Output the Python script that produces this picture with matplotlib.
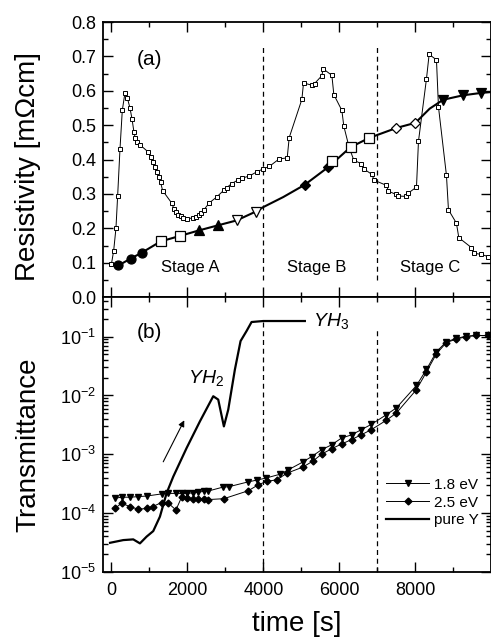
import numpy as np
import matplotlib
matplotlib.use("Agg")
import matplotlib.pyplot as plt
from matplotlib.ticker import MultipleLocator, LogLocator, NullFormatter

plt.rcParams['font.family'] = ['Liberation Sans', 'DejaVu Sans']
plt.rcParams['mathtext.fontset'] = 'custom'
plt.rcParams['mathtext.rm'] = 'Liberation Sans'
plt.rcParams['mathtext.it'] = 'Liberation Sans:italic'

# ---------------- data: panel (a) resistivity ----------------
rho_t = [0, 57, 118, 162, 224, 285, 355, 417, 487, 540, 592, 627, 680, 759, 969,
         1030, 1083, 1136, 1189, 1241, 1294, 1346, 1583, 1645, 1697, 1759, 1820,
         1873, 1978, 2154, 2224, 2294, 2364, 2434, 2575, 2768, 2969, 3031, 3162,
         3320, 3434, 3627, 3820, 3996, 4154, 4417, 4627, 4680, 5013, 5057, 5285,
         5346, 5539, 5575, 5803, 5855, 6066, 6118, 6259, 6382, 6583, 6645, 6855,
         6917, 7241, 7294, 7487, 7557, 7750, 7820, 8031, 8083, 8294, 8364, 8557,
         8610, 8820, 8873, 9083, 9145, 9478, 9540, 9741, 9917]
rho_v = [0.097, 0.134, 0.20, 0.293, 0.43, 0.543, 0.594, 0.58, 0.55, 0.519, 0.48,
         0.462, 0.452, 0.442, 0.422, 0.407, 0.393, 0.378, 0.364, 0.349, 0.334, 0.31,
         0.274, 0.257, 0.249, 0.24, 0.235, 0.231, 0.227, 0.231, 0.233, 0.238, 0.245,
         0.254, 0.274, 0.291, 0.312, 0.318, 0.33, 0.34, 0.346, 0.352, 0.364, 0.373,
         0.38, 0.402, 0.405, 0.464, 0.575, 0.623, 0.616, 0.621, 0.644, 0.664, 0.645,
         0.589, 0.543, 0.497, 0.435, 0.398, 0.388, 0.373, 0.357, 0.34, 0.325, 0.308,
         0.299, 0.294, 0.293, 0.303, 0.32, 0.453, 0.635, 0.706, 0.69, 0.553, 0.354,
         0.254, 0.215, 0.173, 0.144, 0.128, 0.124, 0.118]

# smooth reference curve (thick line)
curve_t = [0, 180, 504, 794, 1294, 1803, 2303, 2811, 3294, 3803, 4000, 4522,
           5092, 5706, 6294, 6785, 7504, 8004, 8377, 8732, 9259, 9741, 9960]
curve_v = [0.095, 0.092, 0.112, 0.129, 0.162, 0.178, 0.194, 0.209, 0.223, 0.249,
           0.262, 0.291, 0.327, 0.378, 0.436, 0.463, 0.492, 0.507, 0.548, 0.574,
           0.587, 0.594, 0.596]

circ_t = [180, 504, 794];           circ_v = [0.092, 0.112, 0.129]
sqA_t = [1294, 1803];               sqA_v = [0.162, 0.178]
triup_t = [2303, 2811];             triup_v = [0.194, 0.209]
tridn_open_t = [3294, 3803];        tridn_open_v = [0.223, 0.249]
dia_t = [5092, 5706];               dia_v = [0.327, 0.378]
sqB_t = [5794, 6294, 6785];         sqB_v = [0.396, 0.436, 0.463]
dia_open_t = [7504, 8004];          dia_open_v = [0.492, 0.507]
tridn_t = [8732, 9259, 9741];       tridn_v = [0.574, 0.587, 0.594]

# ---------------- data: panel (b) transmittance ----------------
pureY_t = [-37, 311, 574, 750, 925, 1100, 1276, 1452, 1627, 1978, 2329, 2680,
           2811, 2960, 3075, 3250, 3399, 3557, 3689, 3996, 5092]
pureY_log = [-4.505, -4.459, -4.447, -4.515, -4.40, -4.306, -4.06, -3.66, -3.38,
             -2.894, -2.44, -2.013, -2.07, -2.526, -2.24, -1.558, -1.075, -0.904,
             -0.751, -0.734, -0.734]

e18_t = [92, 268, 487, 706, 925, 1320, 1496, 1697, 1846, 1978, 2154, 2285, 2434,
         2548, 2925, 3101, 3601, 3820, 4057, 4434, 4654, 5031, 5268, 5531, 5794,
         6057, 6320, 6583, 6846, 7241, 7504, 8031, 8294, 8557, 8820, 9083, 9346,
         9610, 9917]
e18_log = [-3.747, -3.73, -3.73, -3.72, -3.71, -3.674, -3.665, -3.665, -3.665,
           -3.665, -3.655, -3.645, -3.63, -3.625, -3.56, -3.55, -3.469, -3.44,
           -3.406, -3.34, -3.265, -3.134, -3.04, -2.923, -2.84, -2.724, -2.67,
           -2.58, -2.49, -2.326, -2.21, -1.83, -1.558, -1.256, -1.085, -1.03,
           -0.99, -0.98, -0.98]

e25_t = [92, 268, 487, 706, 925, 1083, 1320, 1496, 1697, 1846, 1978, 2154, 2285,
         2434, 2548, 2960, 3601, 3864, 4083, 4346, 4627, 5031, 5294, 5531, 5794,
         6057, 6320, 6583, 6846, 7241, 7504, 8031, 8294, 8557, 8820, 9083, 9346,
         9610, 9917]
e25_log = [-3.918, -3.833, -3.89, -3.935, -3.92, -3.89, -3.82, -3.83, -3.947,
           -3.73, -3.745, -3.765, -3.765, -3.765, -3.77, -3.755, -3.62, -3.52,
           -3.46, -3.435, -3.32, -3.22, -3.12, -3.0, -2.906, -2.826, -2.75, -2.667,
           -2.58, -2.42, -2.297, -1.9, -1.60, -1.29, -1.1, -1.04, -1.0, -0.98,
           -0.98]

xticks = [0, 2000, 4000, 6000, 8000]
stage_bounds = [4000, 7000]

# ---------------- figure ----------------
fig = plt.figure(figsize=(4.91, 6.39), dpi=100)
L, R = 0.210, 0.999
axA = fig.add_axes([L, 0.535, R - L, 0.4305])
axB = fig.add_axes([L, 0.105, R - L, 0.430], sharex=axA)

xlim = (-220, 9980)

# panel (a)
axA.plot(rho_t, rho_v, '-', color='black', lw=0.7, marker='s', ms=3.0,
         mfc='white', mec='black', mew=0.7, zorder=3)
axA.plot(curve_t, curve_v, '-', color='black', lw=1.5, zorder=2)
mk = dict(color='black', ls='none', zorder=4, mew=0.9)
axA.plot(circ_t, circ_v, marker='o', ms=6.5, mfc='black', mec='black', **mk)
axA.plot(sqA_t, sqA_v, marker='s', ms=6.5, mfc='white', mec='black', **mk)
axA.plot(triup_t, triup_v, marker='^', ms=7, mfc='black', mec='black', **mk)
axA.plot(tridn_open_t, tridn_open_v, marker='v', ms=7, mfc='white', mec='black', **mk)
axA.plot(dia_t, dia_v, marker='D', ms=5.5, mfc='black', mec='black', **mk)
axA.plot(sqB_t, sqB_v, marker='s', ms=6.5, mfc='white', mec='black', **mk)
axA.plot(dia_open_t, dia_open_v, marker='D', ms=5.5, mfc='white', mec='black', **mk)
axA.plot(tridn_t, tridn_v, marker='v', ms=7, mfc='black', mec='black', **mk)

for xb in stage_bounds:
    axA.plot([xb, xb], [0.05, 0.737], ls=(0, (4, 3)), color='black', lw=0.9, zorder=1)

axA.text(2066, 0.087, 'Stage A', ha='center', va='center', fontsize=12)
axA.text(5399, 0.087, 'Stage B', ha='center', va='center', fontsize=12)
axA.text(8382, 0.087, 'Stage C', ha='center', va='center', fontsize=12)
axA.text(1000, 0.69, '(a)', ha='center', va='center', fontsize=15)

axA.set_ylim(0.0, 0.8)
axA.set_xlim(*xlim)
axA.yaxis.set_major_locator(MultipleLocator(0.1))
axA.yaxis.set_minor_locator(MultipleLocator(0.05))
axA.yaxis.set_major_formatter(plt.FuncFormatter(lambda v, p: f'{v:.1f}'))
axA.set_ylabel('Resistivity [m\u03a9cm]', fontsize=20)
axA.yaxis.set_label_coords(-0.160, 0.476)
axA.tick_params(labelbottom=False)

# panel (b)
axB.plot(pureY_t, 10 ** np.array(pureY_log), '-', color='black', lw=1.6,
         label='pure Y', zorder=3)
axB.plot(e18_t, 10 ** np.array(e18_log), '-', color='black', lw=0.7, marker='v',
         ms=4.5, mfc='black', mec='black', label='1.8 eV', zorder=4)
axB.plot(e25_t, 10 ** np.array(e25_log), '-', color='black', lw=0.7, marker='D',
         ms=3.5, mfc='black', mec='black', label='2.5 eV', zorder=4)

axB.plot([4000, 4000], [1e-5, 0.185], ls=(0, (4, 3)), color='black', lw=0.9, zorder=1)
axB.plot([7000, 7000], [1e-5, 0.133], ls=(0, (4, 3)), color='black', lw=0.9, zorder=1)

axB.annotate('', xy=(1950, 10 ** -2.38), xytext=(1330, 10 ** -3.17),
             arrowprops=dict(arrowstyle='-|>', color='black', lw=0.8,
                             mutation_scale=9))
axB.text(2500, 10 ** -1.70, '$YH_2$', ha='center', va='center', fontsize=14)
axB.text(5300, 10 ** -0.734, '$YH_3$', ha='left', va='center', fontsize=14)
axB.text(1000, 0.117, '(b)', ha='center', va='center', fontsize=15)

axB.set_yscale('log')
axB.set_ylim(1e-5, 0.47)
axB.set_xlim(*xlim)
axB.yaxis.set_major_locator(LogLocator(base=10, numticks=10))
axB.yaxis.set_minor_locator(LogLocator(base=10, subs=np.arange(2, 10), numticks=20))
axB.yaxis.set_minor_formatter(NullFormatter())
axB.set_xticks(xticks)
axB.set_xticklabels([str(x) for x in xticks])
axB.xaxis.set_minor_locator(MultipleLocator(1000))
axB.set_ylabel('Transmittance', fontsize=20)
axB.yaxis.set_label_coords(-0.160, 0.464)
axB.set_xlabel('time [s]', fontsize=20, labelpad=9)

h, l = axB.get_legend_handles_labels()
order = [1, 2, 0]
axB.legend([h[i] for i in order], [l[i] for i in order], loc='lower right',
           bbox_to_anchor=(0.985, 0.14), frameon=False, fontsize=11,
           handlelength=2.8, handletextpad=0.3, labelspacing=0.25, borderaxespad=0)

for ax in (axA, axB):
    ax.tick_params(which='both', direction='in', top=True, right=True,
                   labelsize=13, width=1.0)
    ax.tick_params(which='major', length=7)
    ax.tick_params(which='minor', length=3.5)
    ax.tick_params(axis='x', which='major', pad=7)
    ax.tick_params(axis='y', which='major', pad=5)
    for s in ax.spines.values():
        s.set_linewidth(1.3)

fig.savefig('out.png', dpi=100)
